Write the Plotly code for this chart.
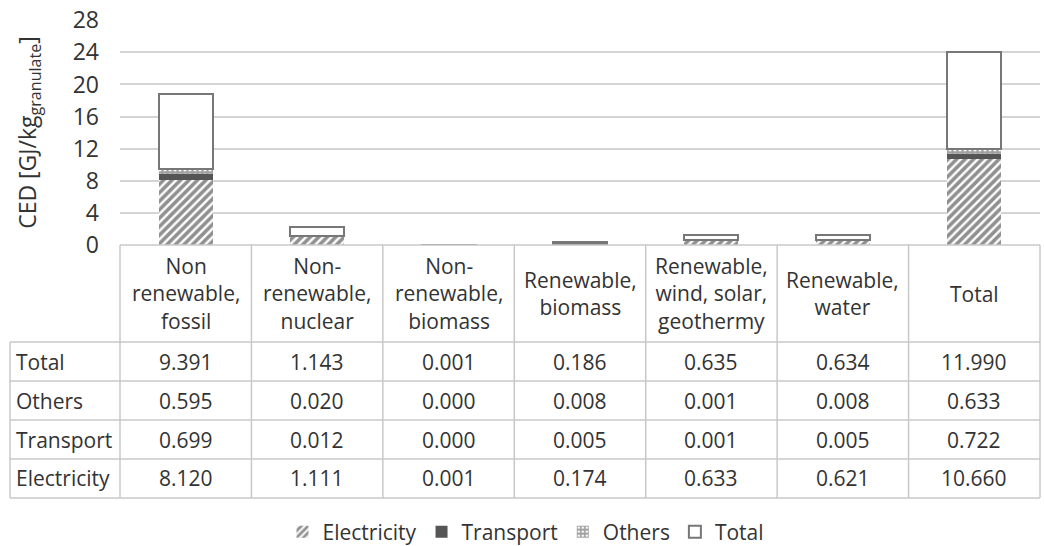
import plotly.graph_objects as go

categories = ["Non<br>renewable,<br>fossil", "Non-<br>renewable,<br>nuclear", "Non-<br>renewable,<br>biomass",
              "Renewable,<br>biomass", "Renewable,<br>wind, solar,<br>geothermy", "Renewable,<br>water", "Total"]
electricity = [8.120, 1.111, 0.001, 0.174, 0.633, 0.621, 10.660]
transport = [0.699, 0.012, 0.000, 0.005, 0.001, 0.005, 0.722]
others = [0.595, 0.020, 0.000, 0.008, 0.001, 0.008, 0.633]
total = [9.391, 1.143, 0.001, 0.186, 0.635, 0.634, 11.990]
table_rows = ["Total", "Others", "Transport", "Electricity"]
table_values = [total, others, transport, electricity]
y_ticks = [0, 4, 8, 12, 16, 20, 24, 28]

W, H = 1044, 546
ML, MR, MT = 120, 4, 20
MB = H - 245
PW, PH = W - ML - MR, H - MT - MB
FONT = "Open Sans"
TXT = "#333333"
GRIDC = "#d4d4d4"
FS = 21

def px(x):
    return (x - ML) / PW

def py(y):
    return (H - MB - y) / PH

x_idx = list(range(len(categories)))

fig = go.Figure()
fig.add_bar(x=x_idx, y=electricity, name="Electricity", width=0.41,
            marker=dict(color="white", line=dict(width=0),
                        pattern=dict(shape="/", fgcolor="#222222", bgcolor="white", size=6, solidity=0.6)))
fig.add_bar(x=x_idx, y=transport, name="Transport", width=0.41,
            marker=dict(color="#555555", line=dict(width=0)))
fig.add_bar(x=x_idx, y=others, name="Others", width=0.41,
            marker=dict(color="white", line=dict(width=0),
                        pattern=dict(shape="+", fgcolor="#444444", bgcolor="white", size=5, solidity=0.7)))
fig.add_bar(x=x_idx, y=total, name="Total", width=0.41,
            marker=dict(color="white", line=dict(width=2, color="#777777")))

shapes = []
annos = []
line = dict(color="#c8c8c8", width=1.5)
n = len(categories)
col_edges = [i / n for i in range(n + 1)]
row_edges = [245, 342, 381, 420, 459, 498]
left = px(10)
shapes.append(dict(type="line", xref="paper", yref="paper", x0=col_edges[0], x1=col_edges[-1],
                   y0=py(row_edges[0]), y1=py(row_edges[0]), line=line))
for r in row_edges[1:]:
    shapes.append(dict(type="line", xref="paper", yref="paper", x0=left, x1=col_edges[-1],
                       y0=py(r), y1=py(r), line=line))
for c in col_edges:
    shapes.append(dict(type="line", xref="paper", yref="paper", x0=c, x1=c,
                       y0=py(row_edges[0]), y1=py(row_edges[-1]), line=line))
shapes.append(dict(type="line", xref="paper", yref="paper", x0=left, x1=left,
                   y0=py(row_edges[1]), y1=py(row_edges[-1]), line=line))

for i, cat in enumerate(categories):
    cx = (col_edges[i] + col_edges[i + 1]) / 2
    annos.append(dict(xref="paper", yref="paper", x=cx, y=py((row_edges[0] + row_edges[1]) / 2),
                      text=cat, showarrow=False, font=dict(size=FS, color=TXT, family=FONT),
                      xanchor="center", yanchor="middle"))
    for r, vals in enumerate(table_values):
        cy = py((row_edges[r + 1] + row_edges[r + 2]) / 2)
        annos.append(dict(xref="paper", yref="paper", x=cx, y=cy, text=f"{vals[i]:.3f}",
                          showarrow=False, font=dict(size=FS, color=TXT, family=FONT),
                          xanchor="center", yanchor="middle"))
for r, lab in enumerate(table_rows):
    cy = py((row_edges[r + 1] + row_edges[r + 2]) / 2)
    annos.append(dict(xref="paper", yref="paper", x=px(14), y=cy, text=lab,
                      showarrow=False, font=dict(size=FS, color=TXT, family=FONT),
                      xanchor="left", yanchor="middle"))

fig.update_layout(
    width=W, height=H, barmode="stack", bargap=0.59,
    margin=dict(l=ML, r=MR, t=MT, b=MB, autoexpand=False),
    paper_bgcolor="white", plot_bgcolor="white",
    font=dict(family=FONT, color=TXT),
    shapes=shapes, annotations=annos,
    legend=dict(orientation="h", x=px(526), xanchor="center", y=py(532), yanchor="middle",
                font=dict(size=FS, color=TXT, family=FONT), traceorder="normal",
                itemwidth=30),
    xaxis=dict(range=[-0.5, n - 0.5], showticklabels=False, showgrid=False, automargin=False,
               zeroline=False, showline=False, ticks=""),
    yaxis=dict(range=[0, 28.03], tickvals=y_ticks, ticktext=[str(v) for v in y_ticks],
               showgrid=True, gridcolor=GRIDC, gridwidth=2, zeroline=False, showline=False,
               automargin=False,
               tickfont=dict(size=23, color=TXT, family=FONT), ticks="", ticklabelstandoff=20,
               ticklabeloverflow="allow",
               title=dict(text="CED [GJ/kg<sub>granulate</sub>]", font=dict(size=23, color=TXT, family=FONT),
                          standoff=29)),
)
fig.write_html("out.html", post_script="document.body.style.margin='0';",
               config={"displayModeBar": False})
